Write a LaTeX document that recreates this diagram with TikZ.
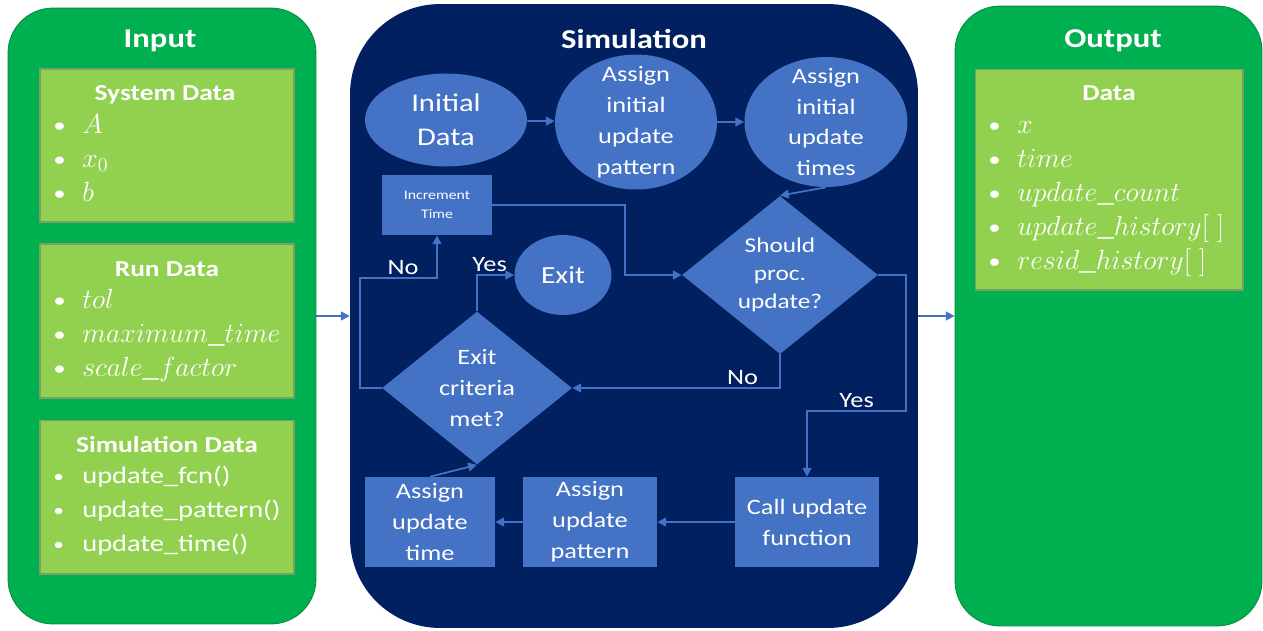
\RequirePackage{fix-cm}
\documentclass[tikz,border=0pt]{standalone}
\usepackage{fontspec}
\setmainfont{Carlito}[FakeStretch=1.2]
\usetikzlibrary{shapes.geometric, arrows.meta}

\definecolor{panelgreen}{HTML}{00B050}
\definecolor{listgreen}{HTML}{92D050}
\definecolor{listedge}{HTML}{7C9F62}
\definecolor{navy}{HTML}{002060}
\definecolor{flowblue}{HTML}{4472C4}

% bullet followed by the entry
\newcommand{\itm}[1]{\makebox[0.58cm][l]{\raisebox{0.5pt}{\scalebox{0.75}{\textbullet}}}#1}

\begin{document}
\begin{tikzpicture}[
    x=0.02cm, y=-0.02cm,
    panel/.style={rectangle, rounded corners=0.9cm, draw=panelgreen!80!black, line width=0.5pt, fill=panelgreen},
    listbox/.style={rectangle, draw=listedge, line width=0.6pt, fill=listgreen},
    title/.style={anchor=base, text=white, font=\bfseries\fontsize{15.5pt}{18pt}\selectfont},
    boxtitle/.style={anchor=base, text=white, font=\bfseries\fontsize{13pt}{16pt}\selectfont},
    item/.style={anchor=base west, inner sep=0pt, text=white, font=\fontsize{13.5pt}{18pt}\selectfont},
    mitem/.style={item, font=\fontsize{15.8pt}{18pt}\selectfont},
    bubble/.style={ellipse, fill=flowblue, text=white, inner xsep=0pt, inner ysep=-14pt, align=center, font=\fontsize{12.5pt}{17.6pt}\selectfont},
    decision/.style={diamond, fill=flowblue, text=white, inner sep=0pt, align=center, font=\fontsize{12.5pt}{17.6pt}\selectfont},
    stepbox/.style={rectangle, fill=flowblue, text=white, inner sep=0pt, align=center, font=\fontsize{12.5pt}{17.6pt}\selectfont},
    link/.style={draw=flowblue, line width=1pt, -{Triangle[length=5pt, width=5pt]}},
    lbl/.style={anchor=south, text=white, inner sep=1.5pt, font=\fontsize{12.5pt}{15pt}\selectfont}
]
\useasboundingbox (0, 0) rectangle (1263, 630);

% three panels
\node[panel, minimum width=6.16cm, minimum height=12.32cm](inpanel) at (162, 316) {};
\node[rectangle, rounded corners=1.8cm, fill=navy, minimum width=11.36cm, minimum height=12.48cm](simpanel) at (634, 316) {};
\node[panel, minimum width=6.14cm, minimum height=12.4cm](outpanel) at (1108.5, 316) {};

\node[title](intitle) at (160, 47) {Input};
\node[title](simtitle) at (634, 48) {Simulation};
\node[title](outtitle) at (1113, 47) {Output};

\draw[link] (inpanel.east) -- (simpanel.west);
\draw[link] (simpanel.east) -- (outpanel.west);

% input lists
\node[listbox, minimum width=5.08cm, minimum height=3.06cm](sysbox) at (167, 145.5) {};
\node[listbox, minimum width=5.08cm, minimum height=3.08cm](runbox) at (167, 321) {};
\node[listbox, minimum width=5.08cm, minimum height=3.08cm](simbox) at (167, 497) {};

\node[boxtitle](systitle) at (165, 100) {System Data};
\node[mitem](sysa) at (53, 133) {\itm{$A$}};
\node[mitem](sysx) at (53, 167) {\itm{$x_0$}};
\node[mitem](sysb) at (53, 201) {\itm{$b$}};

\node[boxtitle](runtitle) at (167, 276) {Run Data};
\node[mitem](runtol) at (53, 308) {\itm{$tol$}};
\node[mitem](runmax) at (53, 342) {\itm{$maximum\_time$}};
\node[mitem](runscale) at (53, 376) {\itm{$scale\_factor$}};

\node[boxtitle](simdtitle) at (167, 452) {Simulation Data};
\node[item](simfcn) at (53, 483) {\itm{update\_fcn()}};
\node[item](simpat) at (53, 517) {\itm{update\_pattern()}};
\node[item](simtime) at (53, 551) {\itm{update\_time()}};

% output list
\node[listbox, minimum width=5.36cm, minimum height=4.42cm](databox) at (1109, 179.5) {};
\node[boxtitle](datatitle) at (1109, 100) {Data};
\node[mitem](outx) at (988, 133) {\itm{$x$}};
\node[mitem](outtime) at (988, 167) {\itm{$time$}};
\node[mitem](outcount) at (988, 201) {\itm{$update\_count$}};
\node[mitem](outuhist) at (988, 235) {\itm{$update\_history[\;]$}};
\node[mitem](outrhist) at (988, 269) {\itm{$resid\_history[\;]$}};

% simulation loop
\node[bubble, minimum width=3.24cm, minimum height=1.86cm, font=\fontsize{14.5pt}{19.3pt}\selectfont](init) at (446, 120) {Initial\\Data};
\node[bubble, minimum width=3.24cm, minimum height=2.7cm](initpat) at (636, 122) {Assign\\initial\\update\\pattern};
\node[bubble, minimum width=3.26cm, minimum height=2.6cm](inittime) at (826, 122) {Assign\\initial\\update\\times};
\node[decision, minimum width=3.92cm, minimum height=2.8cm, font=\fontsize{12pt}{15.9pt}\selectfont](should) at (780, 275) {Should\\proc.\\update?};
\node[stepbox, minimum width=2.2cm, minimum height=1.2cm, font=\fontsize{7.5pt}{10.8pt}\selectfont](inc) at (437, 205) {Increment\\Time};
\node[bubble, minimum width=1.94cm, minimum height=1.6cm, font=\fontsize{14pt}{17pt}\selectfont](exit) at (563, 275) {Exit};
\node[decision, minimum width=3.8cm, minimum height=2.6cm](crit) at (477, 388) {Exit\\criteria\\met?};
\node[stepbox, minimum width=2.88cm, minimum height=1.8cm](call) at (807, 522) {Call update\\function};
\node[stepbox, minimum width=2.68cm, minimum height=1.8cm](updpat) at (590, 522) {Assign\\update\\pattern};
\node[stepbox, minimum width=2.6cm, minimum height=1.8cm](updtime) at (430, 522) {Assign\\update\\time};

\draw[link] (init) -- (initpat);
\draw[link] (initpat) -- (inittime);
\draw[link] (inittime.south) -- (should.north);
\draw[link] (inc.east) -- ++(133, 0) |- (should.west);
\draw[link] (should.south) |- node[lbl, pos=0.59]{No} (crit.east);
\draw[link] (should.east) -- ++(28, 0) -- ++(0, 136) -| node[lbl, pos=0.25]{Yes} (call.north);
\draw[link] (call) -- (updpat);
\draw[link] (updpat) -- (updtime);
\draw[link] (updtime.north) -- (crit.south);
\draw[link] (crit.north) |- node[lbl, pos=0.67]{Yes} (exit.west);
\draw[link] (crit.west) -- ++(-22, 0) -- ++(0, -110) -| node[lbl, pos=0.28]{No} (inc.south);
\end{tikzpicture}
\end{document}
